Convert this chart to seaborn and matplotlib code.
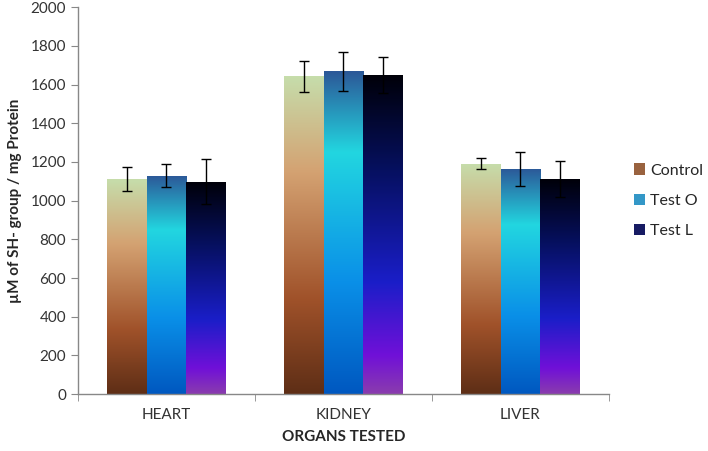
import matplotlib
matplotlib.use("Agg")
import matplotlib.pyplot as plt
from matplotlib.colors import LinearSegmentedColormap
import numpy as np
import pandas as pd
import seaborn as sns

organs = ["HEART", "KIDNEY", "LIVER"]
groups = ["Control", "Test O", "Test L"]
control = [1110, 1643, 1192]
test_o = [1130, 1668, 1163]
test_l = [1099, 1650, 1112]
control_err = [62, 80, 27]
test_o_err = [58, 103, 89]
test_l_err = [117, 93, 93]

# gradient stops, from bottom (0) to top (1)
gradients = {
    "Control": [(0.0, "#5e2e16"), (0.3, "#a0522a"), (0.7, "#d4a272"), (1.0, "#c6ddab")],
    "Test O": [(0.0, "#0058c0"), (0.35, "#0a90e8"), (0.75, "#22d6e0"), (1.0, "#2c5898")],
    "Test L": [(0.0, "#8a3cae"), (0.12, "#7010d8"), (0.35, "#1a1ec8"), (0.7, "#061060"), (1.0, "#000008")],
}
legend_colors = {"Control": "#a85e30", "Test O": "#1aa0e0", "Test L": "#0a1070"}

df = pd.DataFrame({
    "Organ": organs * 3,
    "Group": [g for g in groups for _ in organs],
    "Value": control + test_o + test_l,
    "Err": control_err + test_o_err + test_l_err,
})

sns.set_style("white")
plt.rcParams["font.family"] = ["Lato", "DejaVu Sans"]

fig = plt.figure(figsize=(7.08, 4.51), dpi=100)
ax = fig.add_axes([0.110, 0.126, 0.750, 0.858])

sns.barplot(data=df, x="Organ", y="Value", hue="Group", order=organs, hue_order=groups,
            palette=legend_colors, errorbar=None, width=0.67, ax=ax, linewidth=0)

# gradient fill + error bars per bar
for gi, g in enumerate(groups):
    cmap = LinearSegmentedColormap.from_list(g, gradients[g])
    sub = df[df["Group"] == g].set_index("Organ").loc[organs]
    for oi, patch in enumerate(ax.containers[gi]):
        x0, y0 = patch.get_x(), patch.get_y()
        w, h = patch.get_width(), patch.get_height()
        grad = np.linspace(1, 0, 256).reshape(-1, 1)
        im = ax.imshow(grad, cmap=cmap, aspect="auto", extent=[x0, x0 + w, y0, y0 + h],
                       zorder=patch.get_zorder() + 0.1, interpolation="bilinear")
        im.set_clip_path(patch)
        ax.errorbar(x0 + w / 2, sub["Value"].iloc[oi], yerr=sub["Err"].iloc[oi], fmt="none",
                    ecolor="black", elinewidth=1, capsize=3.5, capthick=1, zorder=5)

ax.set_xlim(-0.5, 2.5)
ax.set_ylim(0, 2000)
ax.set_yticks(range(0, 2001, 200))
ax.set_xticks(range(3))
ax.set_xticks([-0.5, 0.5, 1.5, 2.5], minor=True)
ax.tick_params(axis="x", which="major", length=0, labelsize=11, colors="#333333", pad=10)
ax.tick_params(axis="x", which="minor", length=5, color="#888888", direction="out", bottom=True)
ax.tick_params(axis="y", length=5, color="#888888", direction="out", left=True,
               labelsize=11, colors="#333333")
for s in ["top", "right"]:
    ax.spines[s].set_visible(False)
for s in ["left", "bottom"]:
    ax.spines[s].set_color("#888888")
    ax.spines[s].set_linewidth(1)

ax.set_xlabel("ORGANS TESTED", fontsize=11, fontweight="bold", labelpad=6)
ax.set_ylabel("µM of SH- group / mg Protein", fontsize=11, fontweight="bold", labelpad=6)

ax.legend(loc="center left", bbox_to_anchor=(1.02, 0.5), frameon=False, fontsize=11.5,
          handlelength=0.7, handleheight=0.7, handletextpad=0.3, labelspacing=1.0)

fig.savefig("out.png", dpi=100)
